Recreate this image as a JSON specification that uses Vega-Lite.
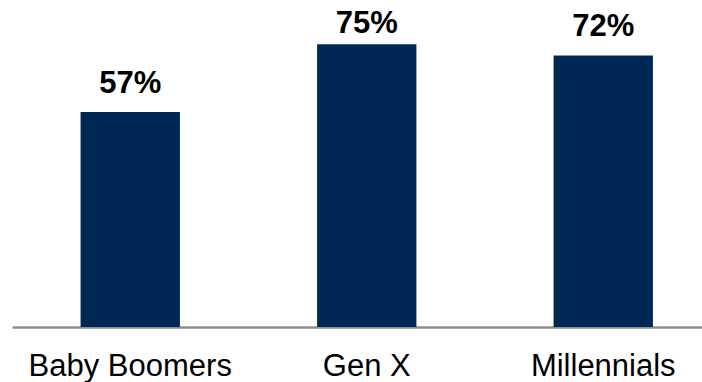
{
  "$schema": "https://vega.github.io/schema/vega-lite/v6.json",
  "width": 690,
  "height": 327,
  "autosize": {"type": "none"},
  "padding": {"left": 12, "top": 0, "right": 0, "bottom": 55},
  "background": "white",
  "config": {"view": {"stroke": null}},
  "data": {"values": [
    {"generation": "Baby Boomers", "share": 0.57},
    {"generation": "Gen X", "share": 0.75},
    {"generation": "Millennials", "share": 0.72}
  ]},
  "encoding": {
    "x": {
      "field": "generation", "type": "nominal", "sort": null,
      "scale": {"range": [0, 709.5], "paddingInner": 0.58, "paddingOuter": 0.29},
      "axis": {
        "title": null, "ticks": false, "grid": false,
        "domainColor": "#8a9090", "domainWidth": 2.5, "domainOpacity": 1,
        "labelAngle": 0, "labelFont": "Liberation Sans", "labelFontSize": 31, "labelLimit": 0,
        "labelColor": "#000000", "labelBaseline": "alphabetic", "labelPadding": 48
      }
    },
    "y": {
      "field": "share", "type": "quantitative",
      "scale": {"domain": [0, 0.867], "nice": false},
      "axis": null
    }
  },
  "layer": [
    {"mark": {"type": "bar", "color": "#002855"}},
    {
      "transform": [{"filter": "datum.generation !== 'Gen X'"}],
      "mark": {"type": "text", "font": "Liberation Sans", "fontSize": 31, "fontWeight": "bold", "baseline": "alphabetic", "dy": -19, "color": "#000000"},
      "encoding": {"text": {"field": "share", "type": "quantitative", "format": ".0%"}}
    },
    {
      "transform": [{"filter": "datum.generation === 'Gen X'"}],
      "mark": {"type": "text", "font": "Liberation Sans", "fontSize": 31, "fontWeight": "bold", "baseline": "alphabetic", "dy": -11, "color": "#000000"},
      "encoding": {"text": {"field": "share", "type": "quantitative", "format": ".0%"}}
    }
  ]
}
